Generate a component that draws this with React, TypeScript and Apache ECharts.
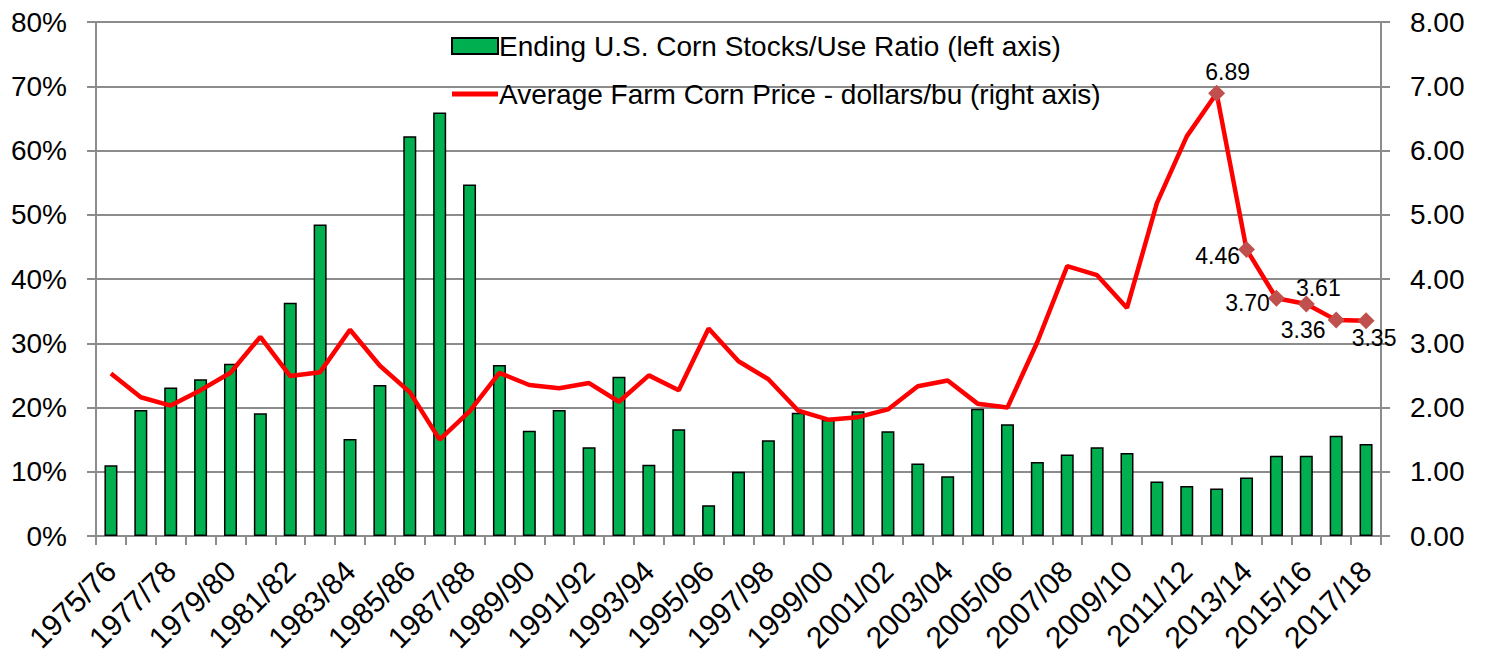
import React, { useEffect, useRef } from "react";
import * as echarts from "echarts";

const categories = [
  "1975/76","1976/77","1977/78","1978/79","1979/80","1980/81","1981/82","1982/83","1983/84","1984/85",
  "1985/86","1986/87","1987/88","1988/89","1989/90","1990/91","1991/92","1992/93","1993/94","1994/95",
  "1995/96","1996/97","1997/98","1998/99","1999/00","2000/01","2001/02","2002/03","2003/04","2004/05",
  "2005/06","2006/07","2007/08","2008/09","2009/10","2010/11","2011/12","2012/13","2013/14","2014/15",
  "2015/16","2016/17","2017/18",
];

const stocksUseRatio = [
  11.0, 19.6, 23.1, 24.4, 26.8, 19.1, 36.3, 48.5, 15.1, 23.5,
  62.2, 65.9, 54.7, 26.6, 16.4, 19.6, 13.8, 24.8, 11.1, 16.6,
  4.8, 10.0, 14.9, 19.2, 18.1, 19.4, 16.3, 11.3, 9.3, 19.8,
  17.4, 11.5, 12.7, 13.8, 12.9, 8.5, 7.8, 7.4, 9.1, 12.5,
  12.5, 15.6, 14.3,
];

const cornPrice = [
  2.53, 2.16, 2.03, 2.27, 2.54, 3.10, 2.49, 2.55, 3.21, 2.65,
  2.24, 1.50, 1.94, 2.54, 2.35, 2.30, 2.38, 2.09, 2.50, 2.27,
  3.23, 2.72, 2.44, 1.95, 1.81, 1.85, 1.97, 2.33, 2.42, 2.06,
  2.00, 3.02, 4.20, 4.06, 3.55, 5.18, 6.22, 6.89, 4.46, 3.70,
  3.61, 3.36, 3.35,
];

// label placement for marked points (index -> position, offset)
const markedPoints: Record<number, { position: string; offset: number[] }> = {
  37: { position: "top", offset: [11, 3] },
  38: { position: "left", offset: [6, 7] },
  39: { position: "left", offset: [6, 5] },
  40: { position: "top", offset: [12, 8] },
  41: { position: "bottom", offset: [-33, -14] },
  42: { position: "bottom", offset: [8, -7] },
};

const leftTicks = [0, 10, 20, 30, 40, 50, 60, 70, 80];

const FONT = "'Liberation Sans', Arial, sans-serif";
const GRID_COLOR = "#8c8c8c";

export default function App() {
  const ref = useRef<HTMLDivElement>(null);

  useEffect(() => {
    if (!ref.current) return;
    const chart = echarts.init(ref.current, undefined, { renderer: "svg" });

    const lineData = cornPrice.map((v, i) => {
      const m = markedPoints[i];
      if (!m) return v;
      return {
        value: v,
        symbol: "diamond",
        symbolSize: 17,
        itemStyle: { color: "#C0504D" },
        label: {
          show: true,
          position: m.position,
          offset: m.offset,
          formatter: (p: any) => Number(p.value).toFixed(2),
          fontSize: 23,
          fontFamily: FONT,
          color: "#000",
          distance: 4,
        },
      };
    });

    chart.setOption({
      animation: false,
      backgroundColor: "#fff",
      textStyle: { fontFamily: FONT },
      grid: { left: 96, right: 104, top: 22, bottom: 122, containLabel: false },
      legend: {
        orient: "vertical",
        left: 446,
        top: 27,
        itemWidth: 46,
        itemHeight: 16,
        itemGap: 20,
        textStyle: { fontSize: 28, color: "#000", fontFamily: FONT, padding: [0, 0, 0, -4] },
        data: [
          { name: "Ending U.S. Corn Stocks/Use Ratio (left axis)", icon: "rect" },
          {
            name: "Average Farm Corn Price - dollars/bu (right axis)",
            icon: "path://M0,0 L46,0 L46,5 L0,5 Z",
            itemStyle: { color: "#FF0000", borderWidth: 0 },
          },
        ],
      },
      xAxis: {
        type: "category",
        data: categories,
        boundaryGap: true,
        axisLine: { show: true, lineStyle: { color: GRID_COLOR, width: 2 } },
        axisTick: { show: true, interval: 0, length: 9, lineStyle: { color: GRID_COLOR, width: 2 } },
        axisLabel: {
          interval: 1,
          rotate: 45,
          fontSize: 30,
          color: "#000",
          fontFamily: FONT,
          margin: 30,
        },
        splitLine: { show: false },
      },
      yAxis: [
        {
          type: "value",
          min: leftTicks[0],
          max: leftTicks[leftTicks.length - 1],
          interval: 10,
          axisLine: { show: true, lineStyle: { color: GRID_COLOR, width: 2 } },
          axisTick: { show: true, length: 9, lineStyle: { color: GRID_COLOR, width: 2 } },
          axisLabel: {
            formatter: (v: number) => `${v}%`,
            fontSize: 28,
            color: "#000",
            fontFamily: FONT,
            margin: 29,
          },
          splitLine: { show: true, lineStyle: { color: GRID_COLOR, width: 2 } },
        },
        {
          type: "value",
          min: 0,
          max: 8,
          interval: 1,
          position: "right",
          axisLine: { show: true, lineStyle: { color: GRID_COLOR, width: 2 } },
          axisTick: { show: true, length: 9, lineStyle: { color: GRID_COLOR, width: 2 } },
          axisLabel: {
            formatter: (v: number) => v.toFixed(2),
            fontSize: 28,
            color: "#000",
            fontFamily: FONT,
            margin: 29,
          },
          splitLine: { show: false },
        },
      ],
      series: [
        {
          name: "Ending U.S. Corn Stocks/Use Ratio (left axis)",
          type: "bar",
          yAxisIndex: 0,
          data: stocksUseRatio,
          barWidth: 13,
          itemStyle: { color: "#00B050", borderColor: "#000", borderWidth: 1.5 },
          z: 2,
        },
        {
          name: "Average Farm Corn Price - dollars/bu (right axis)",
          type: "line",
          yAxisIndex: 1,
          data: lineData,
          symbol: "none",
          lineStyle: { color: "#FF0000", width: 4.5 },
          itemStyle: { color: "#FF0000" },
          z: 3,
        },
      ],
    });

    return () => chart.dispose();
  }, []);

  return (
    <div
      ref={ref}
      style={{ position: "absolute", left: 0, top: 0, width: 1485, height: 658 }}
    />
  );
}
